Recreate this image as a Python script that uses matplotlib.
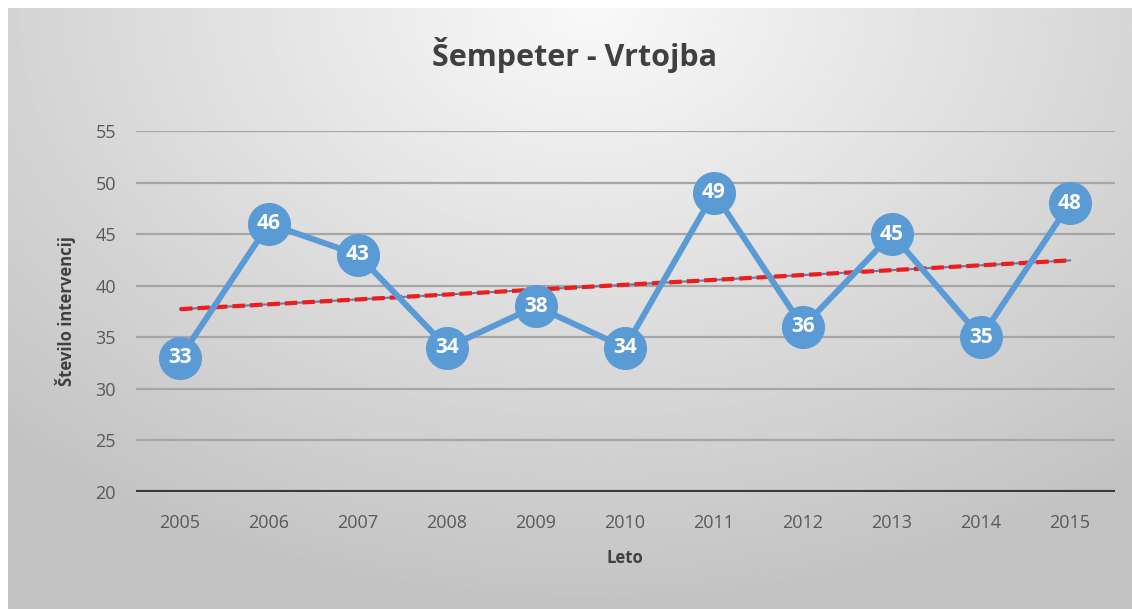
import numpy as np
import matplotlib
matplotlib.use("Agg")
import matplotlib.pyplot as plt

plt.rcParams['font.family'] = ['Open Sans', 'DejaVu Sans']

leta = ['2005', '2006', '2007', '2008', '2009', '2010', '2011', '2012', '2013', '2014', '2015']
intervencije = [33, 46, 43, 34, 38, 34, 49, 36, 45, 35, 48]
y_ticks = [20, 25, 30, 35, 40, 45, 50, 55]

W, H = 1132, 609
fig = plt.figure(figsize=(W / 100, H / 100), dpi=100)
fig.patch.set_facecolor('white')

# gradient background (radial, light at top centre)
bg = fig.add_axes([8 / W, 0, 1 - 8 / W, 1 - 8 / H])
gx, gy = np.meshgrid(np.linspace(0, 1, 400), np.linspace(0, 1, 220))
r = np.sqrt(((gx - 0.52) / 0.75) ** 2 + ((gy - 0.0) / 1.0) ** 2)
r = np.clip(r, 0, 1)
shade = 0.975 - 0.21 * r
bg.imshow(shade, cmap='gray', vmin=0, vmax=1, aspect='auto', extent=[0, 1, 1, 0])
bg.set_axis_off()

ax = fig.add_axes([135.5 / W, 1 - 492 / H, (1114.5 - 135.5) / W, (492 - 131) / H])
ax.patch.set_alpha(0)
x = np.arange(len(leta))

for t in y_ticks[1:]:
    ax.axhline(t, color='#a6a6a6', lw=1.6, zorder=1)
ax.axhline(20, color='#3a3a3a', lw=3, zorder=2)

# linear trend
k, n = np.polyfit(x, intervencije, 1)
trend = k * x + n
ax.plot(x, trend, color='#5b7fa8', lw=1.5, zorder=3)
ax.plot(x, trend, color='#ee1c1c', lw=3, ls=(0, (3, 1.2)), zorder=3)

ax.plot(x, intervencije, color='#5b9bd5', lw=4.3, marker='o', ms=30,
        markerfacecolor='#5b9bd5', markeredgecolor='#5b9bd5', zorder=4)
for xi, v in zip(x, intervencije):
    ax.text(xi, v, str(v), color='white', fontsize=15, fontweight='bold',
            ha='center', va='center', zorder=5)

ax.set_xlim(-0.5, len(leta) - 0.5)
ax.set_ylim(20, 55)
ax.set_xticks(x)
ax.set_xticklabels(leta)
ax.set_yticks(y_ticks)
ax.tick_params(length=0, labelsize=13, labelcolor='#595959')
ax.tick_params(axis='x', pad=16)
ax.tick_params(axis='y', pad=14)
for s in ax.spines.values():
    s.set_visible(False)

ax.set_xlabel('Leto', fontsize=12, fontweight='bold', color='#404040', labelpad=12)
ax.set_ylabel('Število intervencij', fontsize=12, fontweight='bold', color='#404040', labelpad=14)
fig.text(575 / W, 1 - 55 / H, 'Šempeter - Vrtojba', fontsize=22, fontweight='bold',
         color='#404040', ha='center', va='center')

fig.savefig('out.png', dpi=100)
